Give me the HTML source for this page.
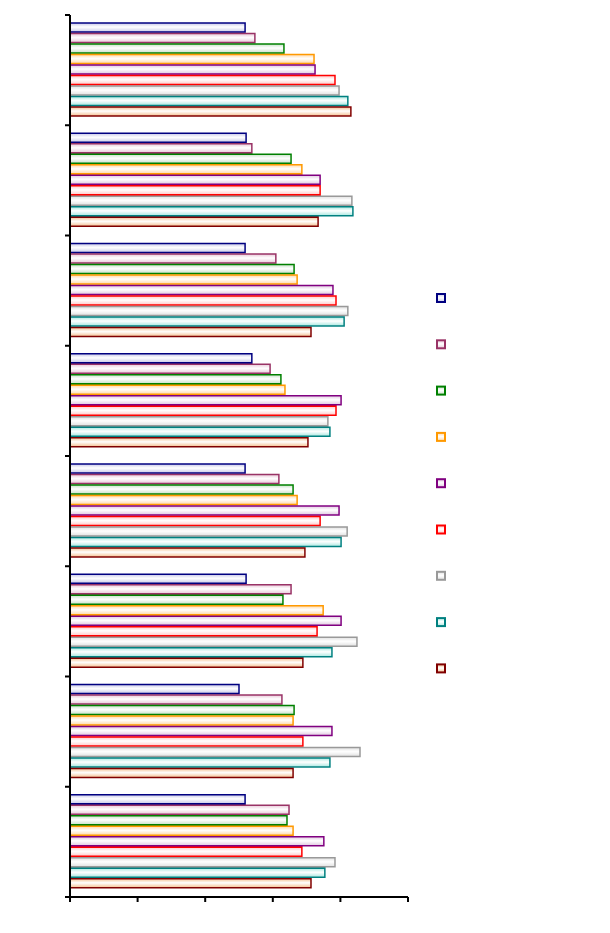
<!DOCTYPE html>
<html><head><meta charset="utf-8"><style>body{margin:0;background:#fff}svg{display:block}</style></head>
<body>
<svg id="chart" width="610" height="933" xmlns="http://www.w3.org/2000/svg"></svg>
<script>
const categories = ["g1","g2","g3","g4","g5","g6","g7","g8"];
const seriesNames = ["s1","s2","s3","s4","s5","s6","s7","s8","s9"];
const s1 = [51.8,52.1,51.8,53.8,51.8,52.1,50.0,51.8];
const s2 = [54.7,53.8,60.9,59.2,61.8,65.4,62.7,64.8];
const s3 = [63.3,65.4,66.3,62.4,66.0,63.0,66.3,64.2];
const s4 = [72.2,68.6,67.2,63.6,67.2,74.9,66.0,66.0];
const s5 = [72.5,74.0,77.8,80.2,79.6,80.2,77.5,75.1];
const s6 = [78.4,74.0,78.7,78.7,74.0,73.1,68.9,68.6];
const s7 = [79.6,83.4,82.2,76.3,82.0,84.9,85.8,78.4];
const s8 = [82.2,83.7,81.1,76.9,80.2,77.5,76.9,75.4];
const s9 = [83.1,73.4,71.3,70.4,69.5,68.9,66.0,71.3];
const xTicks = [0,20,40,60,80,100];
const series = [s1,s2,s3,s4,s5,s6,s7,s8,s9];
const strokes = ["#000080","#993366","#008000","#FF9900","#800080","#FF0000","#999999","#008080","#800000"];
const fills = ["#c8c8e8","#e8c8d8","#c8e0c8","#ffd8a8","#e0c8e0","#ffc8c8","#e0e0e0","#a8e8e0","#f4c08f"];
const NS="http://www.w3.org/2000/svg";
const svg=document.getElementById('chart');
const x0=70,x1=408,y0=15,y1=897;
const xs=v=>x0+(v/100)*(x1-x0);
const gh=(y1-y0)/categories.length;
function mk(t,a){const e=document.createElementNS(NS,t);for(const k in a)e.setAttribute(k,a[k]);svg.appendChild(e);return e;}
const defs=mk('defs',{});
strokes.forEach((c,i)=>{
  const g=document.createElementNS(NS,'linearGradient');g.setAttribute('id','gr'+i);g.setAttribute('x1','0');g.setAttribute('y1','0');g.setAttribute('x2','0');g.setAttribute('y2','1');
  [[0,fills[i]],[0.45,'#ffffff'],[1,fills[i]]].forEach(([o,col])=>{const s=document.createElementNS(NS,'stop');s.setAttribute('offset',o);s.setAttribute('stop-color',col);g.appendChild(s);});
  defs.appendChild(g);
});
categories.forEach((c,gi)=>{
  series.forEach((arr,si)=>{
    const top=y0+gi*gh+8+si*10.5;
    const r=mk('rect',{x:x0,y:top,width:xs(arr[gi])-x0,height:9,fill:'url(#gr'+si+')',stroke:strokes[si],'stroke-width':1.5});
    
    
  });
});
const ya=mk('line',{x1:x0,y1:y0,x2:x0,y2:y1,stroke:'#000','stroke-width':2});

for(let i=0;i<=categories.length;i++){const y=y0+i*gh;const t=mk('line',{x1:x0-5,y1:y,x2:x0,y2:y,stroke:'#000','stroke-width':2});}
const xa=mk('line',{x1:x0-5,y1:y1,x2:x1,y2:y1,stroke:'#000','stroke-width':2});

xTicks.forEach(v=>{const t=mk('line',{x1:xs(v),y1:y1,x2:xs(v),y2:y1+5,stroke:'#000','stroke-width':2});});
seriesNames.forEach((n,i)=>{
  const y=294+i*46.3;
  const r=mk('rect',{x:437,y:y,width:8,height:8,fill:'url(#gr'+i+')',stroke:strokes[i],'stroke-width':2});
  
});
</script>
</body></html>
